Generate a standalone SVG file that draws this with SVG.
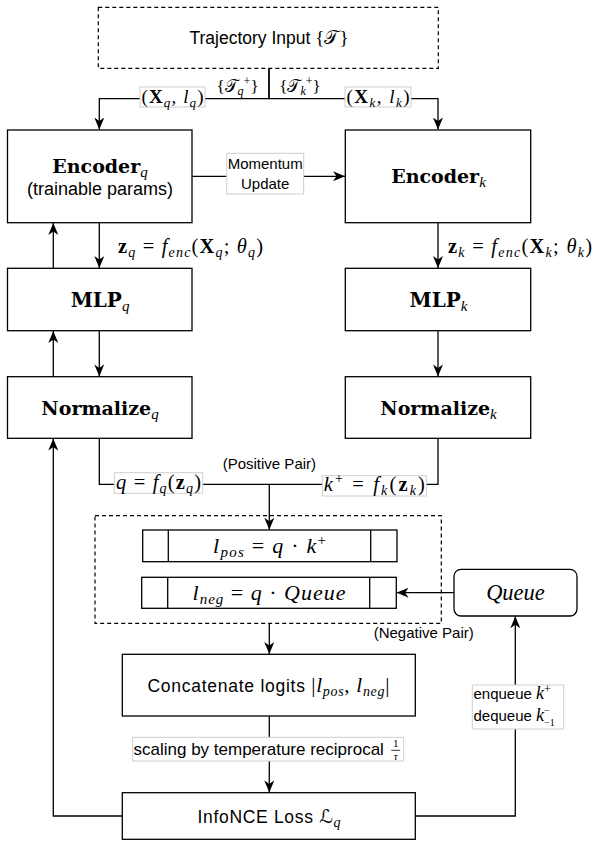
<svg xmlns="http://www.w3.org/2000/svg" width="593" height="842" viewBox="0 0 593 842">
<defs>
<style>
.box{fill:#fff;stroke:#000;stroke-width:1.3}
.dash{fill:none;stroke:#000;stroke-width:1.2;stroke-dasharray:4 3}
.edge{fill:none;stroke:#000;stroke-width:1.3}
.lb{fill:#fff;stroke:#cfcfcf;stroke-width:1}
.s{font-family:"Liberation Sans",Arial,sans-serif}
.mi{font-family:"Liberation Serif","Times New Roman",serif;font-style:italic}
.mr{font-family:"Liberation Serif","Times New Roman",serif;font-style:normal}
.mb{font-family:"Liberation Serif","Times New Roman",serif;font-weight:bold}
.bx{font-family:"DejaVu Serif",serif;font-weight:bold}
.sc{font-family:"DejaVu Sans","Noto Sans",sans-serif;font-style:normal}
</style>
<marker id="a" viewBox="0 0 12 10" refX="12" refY="5" markerWidth="12" markerHeight="10" markerUnits="userSpaceOnUse" orient="auto"><path d="M0,0 L12,5 L0,10 L3.5,5 z" fill="#000"/></marker>
</defs>
<rect width="593" height="842" fill="#fff"/>

<g id="connectors">
<path class="edge" d="M269,68.3 V98.7 H99.3 V129.5" marker-end="url(#a)"/>
<path class="edge" d="M269,68.3 V98.7 H438 V129.5" marker-end="url(#a)"/>
<path class="edge" d="M192,176.3 H345" marker-end="url(#a)"/>
<path class="edge" d="M99.3,222.7 V268" marker-end="url(#a)"/>
<path class="edge" d="M438,222.7 V268" marker-end="url(#a)"/>
<path class="edge" d="M99.3,330.7 V376.4" marker-end="url(#a)"/>
<path class="edge" d="M438,330.7 V376.4" marker-end="url(#a)"/>
<path class="edge" d="M53.3,268.3 V223" marker-end="url(#a)"/>
<path class="edge" d="M53.3,376.7 V331" marker-end="url(#a)"/>
<path class="edge" d="M122.3,816 H53.3 V438.6" marker-end="url(#a)"/>
<path class="edge" d="M99.3,438.3 V484.3 H269.3 V529.7" marker-end="url(#a)"/>
<path class="edge" d="M438,438.3 V484.3 H269.3"/>
<path class="edge" d="M269.3,623.3 V654" marker-end="url(#a)"/>
<path class="edge" d="M269.3,716 V792.4" marker-end="url(#a)"/>
<path class="edge" d="M415.3,816 H515.3 V616.3" marker-end="url(#a)"/>
<path class="edge" d="M454,592.7 H396.6" marker-end="url(#a)"/>
</g>

<g id="edge-labels">
<text x="237.5" y="92" text-anchor="middle" font-size="17"><tspan class="mr">{</tspan><tspan class="sc">𝒯</tspan><tspan class="mi" font-size="12" dy="3">q</tspan><tspan class="mr" font-size="12" dy="-10">+</tspan><tspan class="mr" dy="7">}</tspan></text>
<text x="300" y="92" text-anchor="middle" font-size="17"><tspan class="mr">{</tspan><tspan class="sc">𝒯</tspan><tspan class="mi" font-size="12" dy="3">k</tspan><tspan class="mr" font-size="12" dy="-10">+</tspan><tspan class="mr" dy="7">}</tspan></text>
<rect class="lb" x="140" y="87" width="65" height="20"/>
<text x="172.5" y="103" text-anchor="middle" font-size="19" textLength="62" lengthAdjust="spacing"><tspan class="mr">(</tspan><tspan class="mb">X</tspan><tspan class="mi" font-size="13" dy="3.5">q</tspan><tspan class="mr" dy="-3.5">, </tspan><tspan class="mi">l</tspan><tspan class="mi" font-size="13" dy="3.5">q</tspan><tspan class="mr" dy="-3.5">)</tspan></text>
<rect class="lb" x="345" y="87" width="66" height="20"/>
<text x="378" y="103" text-anchor="middle" font-size="19" textLength="63" lengthAdjust="spacing"><tspan class="mr">(</tspan><tspan class="mb">X</tspan><tspan class="mi" font-size="13" dy="3.5">k</tspan><tspan class="mr" dy="-3.5">, </tspan><tspan class="mi">l</tspan><tspan class="mi" font-size="13" dy="3.5">k</tspan><tspan class="mr" dy="-3.5">)</tspan></text>
<rect class="lb" x="226.7" y="153.3" width="77" height="40.7"/>
<text x="265.2" y="168.5" text-anchor="middle" class="s" font-size="15">Momentum</text>
<text x="265.2" y="188.5" text-anchor="middle" class="s" font-size="15">Update</text>
<text x="118" y="253" font-size="20.5" textLength="145" lengthAdjust="spacing"><tspan class="mb">z</tspan><tspan class="mi" font-size="14" dy="4">q</tspan><tspan class="mr" dy="-4"> = </tspan><tspan class="mi">f</tspan><tspan class="mi" font-size="14" dy="4">enc</tspan><tspan class="mr" dy="-4">(</tspan><tspan class="mb">X</tspan><tspan class="mi" font-size="14" dy="4">q</tspan><tspan class="mr" dy="-4">; </tspan><tspan class="mi">θ</tspan><tspan class="mi" font-size="14" dy="4">q</tspan><tspan class="mr" dy="-4">)</tspan></text>
<text x="448" y="253" font-size="20.5" textLength="144" lengthAdjust="spacing"><tspan class="mb">z</tspan><tspan class="mi" font-size="14" dy="4">k</tspan><tspan class="mr" dy="-4"> = </tspan><tspan class="mi">f</tspan><tspan class="mi" font-size="14" dy="4">enc</tspan><tspan class="mr" dy="-4">(</tspan><tspan class="mb">X</tspan><tspan class="mi" font-size="14" dy="4">k</tspan><tspan class="mr" dy="-4">; </tspan><tspan class="mi">θ</tspan><tspan class="mi" font-size="14" dy="4">k</tspan><tspan class="mr" dy="-4">)</tspan></text>
<text x="222.7" y="468.5" class="s" font-size="15">(Positive Pair)</text>
<rect class="lb" x="114.3" y="472.7" width="88.4" height="20.6"/>
<text x="158.5" y="489" text-anchor="middle" font-size="20.5" textLength="85" lengthAdjust="spacing"><tspan class="mi">q</tspan><tspan class="mr"> = </tspan><tspan class="mi">f</tspan><tspan class="mi" font-size="14" dy="4">q</tspan><tspan class="mr" dy="-4">(</tspan><tspan class="mb">z</tspan><tspan class="mi" font-size="14" dy="4">q</tspan><tspan class="mr" dy="-4">)</tspan></text>
<rect class="lb" x="322.3" y="475.7" width="104" height="20.3"/>
<text x="374.3" y="491" text-anchor="middle" font-size="20.5" textLength="101" lengthAdjust="spacing"><tspan class="mi">k</tspan><tspan class="mr" font-size="14" dy="-8">+</tspan><tspan class="mr" dy="8"> = </tspan><tspan class="mi">f</tspan><tspan class="mi" font-size="14" dy="4">k</tspan><tspan class="mr" dy="-4">(</tspan><tspan class="mb">z</tspan><tspan class="mi" font-size="14" dy="4">k</tspan><tspan class="mr" dy="-4">)</tspan></text>
<text x="373.7" y="638" class="s" font-size="15">(Negative Pair)</text>
<rect class="lb" x="132.7" y="737.3" width="271" height="23.7"/>
<text x="133.5" y="755" class="s" font-size="17">scaling by temperature reciprocal</text>
<text x="395.7" y="747.3" text-anchor="middle" class="mr" font-size="11">1</text>
<line x1="391.2" y1="750.3" x2="400.2" y2="750.3" stroke="#000" stroke-width="0.8"/>
<text x="395.7" y="759.5" text-anchor="middle" class="mi" font-size="11">τ</text>
<rect class="lb" x="472.3" y="685" width="91.4" height="44"/>
<text x="473.5" y="699" class="s" font-size="15">enqueue <tspan class="mi" font-size="18">k</tspan><tspan class="mr" font-size="12" dy="-6">+</tspan></text>
<text x="473.5" y="721" class="s" font-size="15">dequeue <tspan class="mi" font-size="18">k</tspan><tspan class="mr" font-size="10" dy="-7">−</tspan><tspan class="mr" font-size="10" dx="-5.6" dy="12">−1</tspan></text>
</g>

<g id="traj">
<rect class="dash" x="98.3" y="7.3" width="340" height="61"/>
<text x="269" y="44" text-anchor="middle" class="s" font-size="17.5">Trajectory Input <tspan class="mr" font-size="19">{</tspan><tspan class="sc" font-size="19">𝒯</tspan><tspan class="mr" font-size="19">}</tspan></text>
</g>

<g id="enc_q">
<rect class="box" x="7.5" y="130" width="184.5" height="92.7"/>
<text x="100" y="172.5" text-anchor="middle" font-size="19"><tspan class="bx">Encoder</tspan><tspan class="mi" font-size="15" dy="4">q</tspan></text>
<text x="100" y="195" text-anchor="middle" class="s" font-size="18">(trainable params)</text>
</g>

<g id="enc_k">
<rect class="box" x="345.3" y="130" width="185.4" height="92.7"/>
<text x="438.5" y="182.7" text-anchor="middle" font-size="19"><tspan class="bx">Encoder</tspan><tspan class="mi" font-size="15" dy="4">k</tspan></text>
</g>

<g id="mlp_q">
<rect class="box" x="7.5" y="268.3" width="184.5" height="62.4"/>
<text x="100" y="306.7" text-anchor="middle" font-size="20"><tspan class="bx">MLP</tspan><tspan class="mi" font-size="15" dy="4">q</tspan></text>
</g>

<g id="mlp_k">
<rect class="box" x="345.3" y="268.3" width="185.4" height="62.4"/>
<text x="438.5" y="306.7" text-anchor="middle" font-size="20"><tspan class="bx">MLP</tspan><tspan class="mi" font-size="15" dy="4">k</tspan></text>
</g>

<g id="norm_q">
<rect class="box" x="7.5" y="376.7" width="184.5" height="61.6"/>
<text x="100" y="414.5" text-anchor="middle" font-size="19"><tspan class="bx">Normalize</tspan><tspan class="mi" font-size="15" dy="4">q</tspan></text>
</g>

<g id="norm_k">
<rect class="box" x="345.3" y="376.7" width="185.4" height="61.6"/>
<text x="438.5" y="414.5" text-anchor="middle" font-size="19"><tspan class="bx">Normalize</tspan><tspan class="mi" font-size="15" dy="4">k</tspan></text>
</g>

<g id="logits">
<rect class="dash" x="95" y="515.7" width="346.3" height="107.6"/>
<g id="l_pos">
<rect class="box" x="142.7" y="530" width="254.3" height="31.7"/>
<line class="edge" x1="168.3" y1="530" x2="168.3" y2="561.7"/>
<line class="edge" x1="370.7" y1="530" x2="370.7" y2="561.7"/>
<text x="269.5" y="552.5" text-anchor="middle" font-size="22" textLength="113" lengthAdjust="spacing"><tspan class="mi">l</tspan><tspan class="mi" font-size="15" dy="4">pos</tspan><tspan class="mr" dy="-4"> = </tspan><tspan class="mi">q</tspan><tspan class="mr"> · </tspan><tspan class="mi">k</tspan><tspan class="mr" font-size="15" dy="-8">+</tspan></text>
</g>
<g id="l_neg">
<rect class="box" x="141.7" y="577.3" width="254.6" height="31"/>
<line class="edge" x1="167.7" y1="577.3" x2="167.7" y2="608.3"/>
<line class="edge" x1="369.7" y1="577.3" x2="369.7" y2="608.3"/>
<text x="269" y="599.5" text-anchor="middle" font-size="22" textLength="153" lengthAdjust="spacing"><tspan class="mi">l</tspan><tspan class="mi" font-size="15" dy="4">neg</tspan><tspan class="mr" dy="-4"> = </tspan><tspan class="mi">q</tspan><tspan class="mr"> · </tspan><tspan class="mi">Queue</tspan></text>
</g>
</g>

<g id="queue">
<rect class="box" x="454" y="569.3" width="123" height="46.7" rx="7"/>
<text x="515.5" y="599.5" text-anchor="middle" class="mi" font-size="22.5">Queue</text>
</g>

<g id="concat">
<rect class="box" x="122.3" y="654.3" width="293" height="61.7"/>
<text x="268.5" y="691.5" text-anchor="middle" font-size="17.5" textLength="242" lengthAdjust="spacing"><tspan class="s">Concatenate logits </tspan><tspan class="mr" font-size="21">|</tspan><tspan class="mi" font-size="21">l</tspan><tspan class="mi" font-size="14" dy="4">pos</tspan><tspan class="mr" font-size="21" dy="-4">, </tspan><tspan class="mi" font-size="21">l</tspan><tspan class="mi" font-size="14" dy="4">neg</tspan><tspan class="mr" font-size="21" dy="-4">|</tspan></text>
</g>

<g id="loss">
<rect class="box" x="122.3" y="792.7" width="293" height="46.6"/>
<text x="269" y="822.5" text-anchor="middle" font-size="17.5" textLength="143" lengthAdjust="spacing"><tspan class="s">InfoNCE Loss </tspan><tspan class="sc" font-size="19">ℒ</tspan><tspan class="mi" font-size="14" dy="4">q</tspan></text>
</g>
</svg>
